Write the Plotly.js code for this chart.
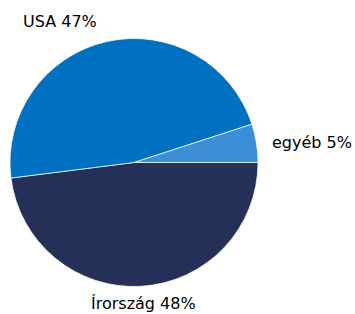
<!DOCTYPE html>
<html>
<head>
<meta charset="utf-8">
<script src="https://cdn.plot.ly/plotly-3.0.1.min.js"></script>
<style>html,body{margin:0;padding:0;background:#fff;}#chart{width:355px;height:314px;}</style>
</head>
<body>
<div id="chart"></div>
<script>
const categories = ["Írország", "USA", "egyéb"];
const shares = [48, 47, 5];
const colors = ["#243058", "#0070C0", "#3B8FD6"];

const labelPos = [
  {x: 0.403, y: 0.033},
  {x: 0.17, y: 0.933},
  {x: 0.878, y: 0.545}
];

const data = [{
  type: "pie",
  labels: categories,
  values: shares,
  sort: false,
  direction: "clockwise",
  rotation: 90,
  textinfo: "none",
  hoverinfo: "none",
  marker: {colors: colors, line: {color: "rgba(255,255,255,0.7)", width: 1}},
  domain: {x: [10/355, 258/355], y: [1 - 287/314, 1 - 38/314]},
  showlegend: false
}];

const annotations = categories.map((c, i) => ({
  xref: "paper", yref: "paper",
  x: labelPos[i].x, y: labelPos[i].y,
  xanchor: "center", yanchor: "middle",
  text: c + " " + shares[i] + "%",
  showarrow: false,
  font: {family: "DejaVu Sans, Verdana, sans-serif", size: 16, color: "#000"}
}));

const layout = {
  width: 355, height: 314,
  margin: {l: 0, r: 0, t: 0, b: 0},
  paper_bgcolor: "#fff",
  annotations: annotations
};

Plotly.newPlot("chart", data, layout, {displayModeBar: false, staticPlot: true});
</script>
</body>
</html>
